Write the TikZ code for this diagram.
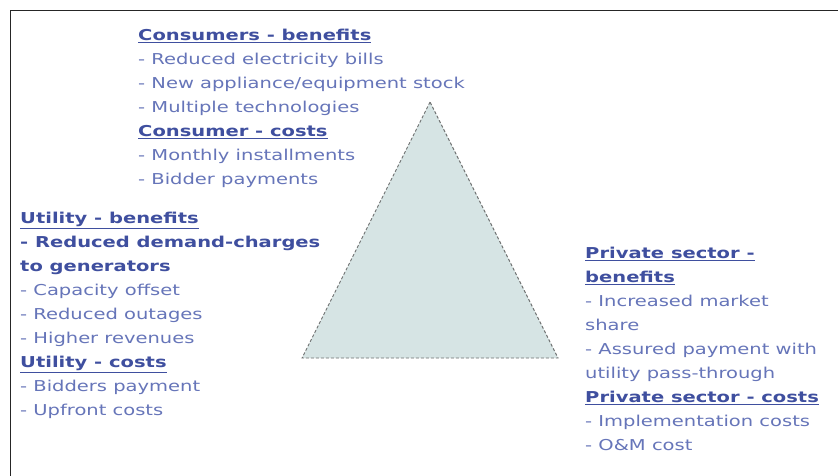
\documentclass[tikz,border=0pt]{standalone}
\usepackage{fontspec}
\setmainfont[FakeStretch=1.3]{DejaVu Sans}
\definecolor{headblue}{HTML}{3F4F9F}
\definecolor{itemblue}{HTML}{6675B9}
\definecolor{trifill}{HTML}{D6E4E4}
\definecolor{tridash}{HTML}{6E7070}
\newcommand{\hd}[1]{{\bfseries\color{headblue}\underline{#1}}}
\newcommand{\bd}[1]{{\bfseries\color{headblue}#1}}
\begin{document}
\begin{tikzpicture}[x=1pt,y=-1pt,
  block/.style={anchor=north west,align=left,inner sep=0pt,text=itemblue,
    font=\fontsize{15}{24}\selectfont}]
\useasboundingbox (0,0) rectangle (838,475);
\fill[white] (0,0) rectangle (838,475);
\coordinate (bl) at (10.5,480);
\coordinate (tl) at (10.5,10.5);
\coordinate (tr) at (845,10.5);
\draw[line width=1.6pt,black!85] (bl) -- (tl) -- (tr);
\coordinate (apex) at (430,102);
\coordinate (bleft) at (302,358);
\coordinate (bright) at (558,358);
\draw[fill=trifill,draw=tridash,line width=0.9pt,dash pattern=on 3pt off 2pt]
  (apex) -- (bleft) -- (bright) -- cycle;
\node[block] (consumers) at (138,29) {\hd{Consumers - benefits}\\
- Reduced electricity bills\\
- New appliance/equipment stock\\
- Multiple technologies\\
\hd{Consumer - costs}\\
- Monthly installments\\
- Bidder payments};
\node[block] (utility) at (20,212) {\hd{Utility - benefits}\\
\bd{- Reduced demand-charges}\\
\bd{to generators}\\
- Capacity offset\\
- Reduced outages\\
- Higher revenues\\
\hd{Utility - costs}\\
- Bidders payment\\
- Upfront costs};
\node[block] (private) at (585,247) {\hd{Private sector -}\\
\hd{benefits}\\
- Increased market\\
share\\
- Assured payment with\\
utility pass-through\\
\hd{Private sector - costs}\\
- Implementation costs\\
- O\&M cost};
\end{tikzpicture}
\end{document}
